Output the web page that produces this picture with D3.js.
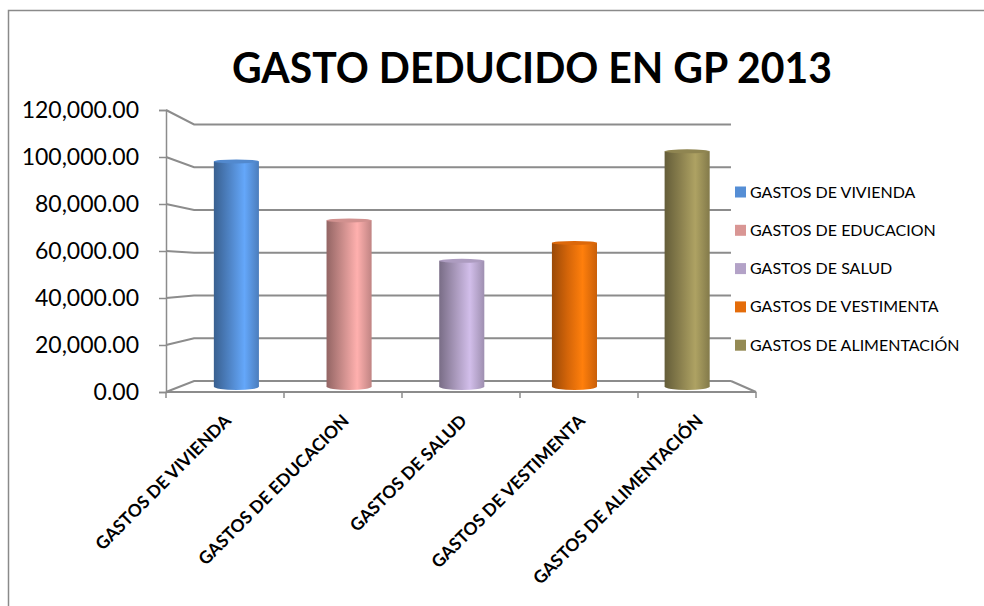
<!DOCTYPE html>
<html>
<head>
<meta charset="utf-8">
<script src="https://cdn.jsdelivr.net/npm/d3@7"></script>
<style>
  body { margin: 0; background: #fff; }
  text { font-family: Lato, "Open Sans", sans-serif; fill: #000; }
</style>
</head>
<body>
<div id="chart"></div>
<script>
// chart values
var categories = ["GASTOS DE VIVIENDA", "GASTOS DE EDUCACION", "GASTOS DE SALUD",
  "GASTOS DE VESTIMENTA", "GASTOS DE ALIMENTACIÓN"];
var values = [100300, 74000, 56000, 64000, 104800];
var colors = ["#558ed5", "#d99694", "#b3a2c7", "#e46c0a", "#948a54"];
var yTicks = [0, 20000, 40000, 60000, 80000, 100000, 120000];
var title = "GASTO DEDUCIDO EN GP 2013";

var svgWidth = 984;
var svgHeight = 606;

var svg = d3.select("#chart")
  .append("svg")
  .attr("width", svgWidth)
  .attr("height", svgHeight);

// front plane scales
var x = d3.scaleBand().domain(categories).range([166, 756]);
var y = d3.scaleLinear().domain([0, 120000]).range([392, 110]);

// simple perspective: z = 0 front, z = 1 back wall
var vx = 478, vy = 270, shrink = 0.09;
function proj(px, py, z) {
  var s = 1 - shrink * z;
  return [vx + s * (px - vx), vy + s * (py - vy)];
}

var gridColor = "#8c8c8c";

// outer border (runs off the right / bottom edge)
svg.append("path")
  .attr("d", "M8.5,606 L8.5,10.5 L984,10.5")
  .attr("fill", "none")
  .attr("stroke", "#8a8a8a")
  .attr("stroke-width", 1.5);

// title
svg.append("text")
  .attr("x", 532)
  .attr("y", 83)
  .attr("text-anchor", "middle")
  .attr("font-size", 42)
  .attr("font-weight", "bold")
  .attr("textLength", 600)
  .attr("lengthAdjust", "spacingAndGlyphs")
  .text(title);

var x0 = x.range()[0], x1 = x.range()[1];

// gridlines: side wall diagonal then back wall
var grid = svg.append("g");
yTicks.forEach(function(t) {
  var a = proj(x0, y(t), 0), b = proj(x0, y(t), 1), c = proj(x1, y(t), 1);
  grid.append("path")
    .attr("d", "M" + a + "L" + b + "L" + c)
    .attr("fill", "none")
    .attr("stroke", gridColor)
    .attr("stroke-width", 2);
});

// floor edges
var fl = proj(x0, y(0), 0), fr = proj(x1, y(0), 0), br = proj(x1, y(0), 1);
svg.append("path")
  .attr("d", "M" + fl + "L" + fr + "L" + br)
  .attr("fill", "none")
  .attr("stroke", gridColor)
  .attr("stroke-width", 2);

// category ticks on the floor front edge
svg.append("g").selectAll("line")
  .data(d3.range(categories.length + 1))
  .enter()
  .append("line")
  .attr("x1", i => x0 + i * x.step())
  .attr("x2", i => x0 + i * x.step())
  .attr("y1", y(0))
  .attr("y2", y(0) + 6)
  .attr("stroke", gridColor)
  .attr("stroke-width", 1.5);

// y axis on the front edge
var leftAxis = d3.axisLeft(y)
  .tickValues(yTicks)
  .tickFormat(d3.format(",.2f"))
  .tickSize(7)
  .tickPadding(20);

var yAxis = svg.append("g")
  .attr("transform", `translate(${x0}, 0)`)
  .call(leftAxis);
yAxis.select(".domain").attr("stroke", gridColor).attr("stroke-width", 1.5);
yAxis.selectAll(".tick line").attr("stroke", gridColor).attr("stroke-width", 1.5);
yAxis.selectAll(".tick text")
  .attr("font-size", 23)
  .attr("font-family", "Lato, 'Open Sans', sans-serif")
  .attr("fill", "#000");

// cylinder gradients
var defs = svg.append("defs");
colors.forEach(function(c, i) {
  var g = defs.append("linearGradient")
    .attr("id", "cyl" + i)
    .attr("x1", "0%").attr("x2", "100%").attr("y1", "0%").attr("y2", "0%");
  var base = d3.color(c);
  g.append("stop").attr("offset", "0%").attr("stop-color", base.darker(1.1));
  g.append("stop").attr("offset", "35%").attr("stop-color", base.darker(0.2));
  g.append("stop").attr("offset", "68%").attr("stop-color", base.brighter(0.45));
  g.append("stop").attr("offset", "100%").attr("stop-color", base.darker(0.35));
});

// bars as cylinders, halfway into the depth
var barFrac = 0.4;
var ry = 3.5;
var bars = svg.append("g").selectAll("g")
  .data(categories)
  .enter()
  .append("g");

bars.each(function(d, i) {
  var cx = x(d) + x.bandwidth() / 2;
  var w = x.bandwidth() * barFrac;
  var top = proj(cx - w / 2, y(values[i]), 0.5);
  var topR = proj(cx + w / 2, y(values[i]), 0.5);
  var bot = proj(cx - w / 2, y(0), 0.5);
  var g = d3.select(this);
  var pw = topR[0] - top[0];
  g.append("ellipse")
    .attr("cx", top[0] + pw / 2)
    .attr("cy", bot[1])
    .attr("rx", pw / 2)
    .attr("ry", ry)
    .attr("fill", `url(#cyl${i})`);
  g.append("rect")
    .attr("x", top[0])
    .attr("y", top[1])
    .attr("width", pw)
    .attr("height", bot[1] - top[1])
    .attr("fill", `url(#cyl${i})`);
  g.append("ellipse")
    .attr("cx", top[0] + pw / 2)
    .attr("cy", top[1])
    .attr("rx", pw / 2)
    .attr("ry", 2)
    .attr("fill", d3.color(colors[i]).darker(0.1));
});

// category labels at 45 degrees
svg.append("g").selectAll("text")
  .data(categories)
  .enter()
  .append("text")
  .attr("transform", d => `translate(${x(d) + x.bandwidth() / 2 + 7}, ${y(0) + 30}) rotate(-45)`)
  .attr("text-anchor", "end")
  .attr("font-size", 17.5)
  .attr("font-weight", "bold")
  .text(d => d);

// legend
var legend = svg.append("g").selectAll("g")
  .data(categories)
  .enter()
  .append("g")
  .attr("transform", (d, i) => `translate(735, ${192 + i * 38.3})`);

legend.append("rect")
  .attr("x", 0)
  .attr("y", -5.5)
  .attr("width", 11)
  .attr("height", 11)
  .attr("fill", (d, i) => colors[i]);

legend.append("text")
  .attr("x", 15)
  .attr("y", 5.5)
  .attr("font-size", 16)
  .text(d => d);
</script>
</body>
</html>
